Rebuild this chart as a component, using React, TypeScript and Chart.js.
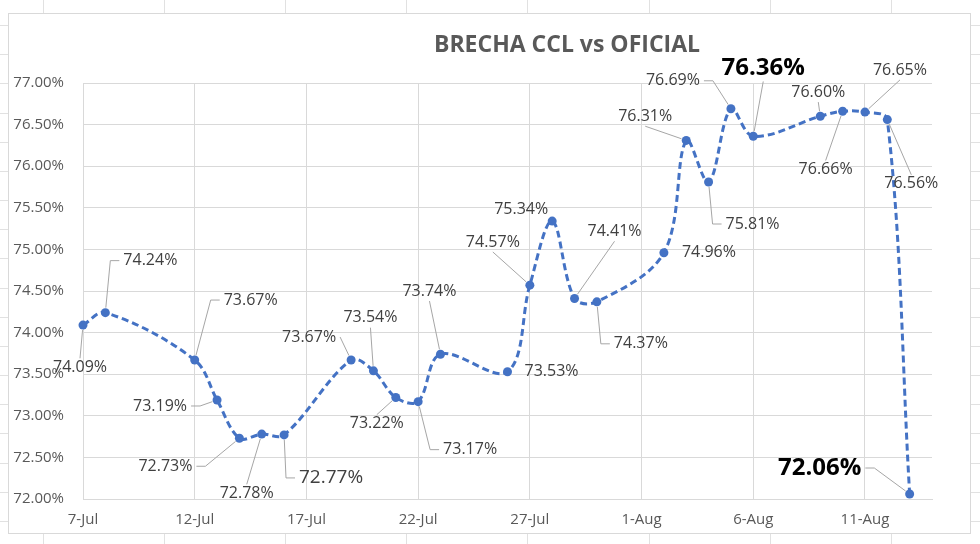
import React, { useEffect, useRef } from 'react';
import { Chart, registerables } from 'chart.js';

Chart.register(...registerables);

// ---- data ----
const dates = [
  '2021-07-07', '2021-07-08', '2021-07-12', '2021-07-13', '2021-07-14', '2021-07-15', '2021-07-16',
  '2021-07-19', '2021-07-20', '2021-07-21', '2021-07-22', '2021-07-23',
  '2021-07-26', '2021-07-27', '2021-07-28', '2021-07-29', '2021-07-30',
  '2021-08-02', '2021-08-03', '2021-08-04', '2021-08-05', '2021-08-06',
  '2021-08-09', '2021-08-10', '2021-08-11', '2021-08-12', '2021-08-13',
];
const values = [
  74.09, 74.24, 73.67, 73.19, 72.73, 72.78, 72.77,
  73.67, 73.54, 73.22, 73.17, 73.74,
  73.53, 74.57, 75.34, 74.41, 74.37,
  74.96, 76.31, 75.81, 76.69, 76.36,
  76.60, 76.66, 76.65, 76.56, 72.06,
];
const tickDates = ['2021-07-07', '2021-07-12', '2021-07-17', '2021-07-22', '2021-07-27', '2021-08-01', '2021-08-06', '2021-08-11'];
const tickLabels = ['7-Jul', '12-Jul', '17-Jul', '22-Jul', '27-Jul', '1-Aug', '6-Aug', '11-Aug'];
const axisStart = '2021-07-07';
const axisEnd = '2021-08-14';
const yMin = 72;
const yMax = 77;
const yStep = 0.5;
const title = 'BRECHA CCL vs OFICIAL';

// ---- label placement (pixel offsets from the point, leader style) ----
type Anchor = 'top' | 'bottom' | 'left' | 'right' | null;
type LL = { dx: number; dy: number; a: Anchor; elbow?: boolean; s?: 'big' | 'bold' };
const labelLayout: LL[] = [
  { dx: -3, dy: 42, a: 'top' },
  { dx: 45, dy: -52, a: 'left', elbow: true },
  { dx: 56, dy: -60, a: 'left', elbow: true },
  { dx: -57, dy: 6, a: 'right', elbow: true },
  { dx: -74, dy: 28, a: 'right', elbow: true },
  { dx: -15, dy: 59, a: 'top' },
  { dx: 47, dy: 43, a: 'left', elbow: true, s: 'big' },
  { dx: -42, dy: -23, a: 'right' },
  { dx: -3, dy: -53, a: 'bottom' },
  { dx: -19, dy: 26, a: 'top' },
  { dx: 52, dy: 48, a: 'left', elbow: true },
  { dx: -11, dy: -63, a: 'bottom' },
  { dx: 44, dy: 0, a: null },
  { dx: -37, dy: -43, a: 'bottom' },
  { dx: -31, dy: -12, a: null },
  { dx: 40, dy: -67, a: 'bottom' },
  { dx: 44, dy: 42, a: 'left', elbow: true },
  { dx: 45, dy: 0, a: null },
  { dx: -41, dy: -24, a: 'bottom' },
  { dx: 44, dy: 42, a: 'left', elbow: true },
  { dx: -58, dy: -28, a: 'right', elbow: true },
  { dx: 10, dy: -68, a: 'bottom', s: 'bold' },
  { dx: -2, dy: -24, a: 'bottom' },
  { dx: -17, dy: 58, a: 'top' },
  { dx: 35, dy: -42, a: 'bottom' },
  { dx: 24, dy: 64, a: 'top' },
  { dx: -90, dy: -26, a: 'right', elbow: true, s: 'bold' },
];

const FONT = '"Open Sans", "Liberation Sans", sans-serif';
const dayNum = (s: string) => {
  const [y, m, d] = s.split('-').map(Number);
  return Date.UTC(y, m - 1, d) / 86400000;
};
const d0 = dayNum(axisStart);
const points = dates.map((d, i) => ({ x: dayNum(d) - d0, y: values[i] }));
const tickValues = tickDates.map((d) => dayNum(d) - d0);
const labelTexts = values.map((v) => v.toFixed(2) + '%');

const framePlugin = {
  id: 'frame',
  beforeDraw(chart: any) {
    const ctx = chart.ctx;
    const W = chart.width, H = chart.height;
    ctx.save();
    ctx.fillStyle = '#ffffff';
    ctx.fillRect(0, 0, W, H);
    // spreadsheet cell lines peeking out
    ctx.strokeStyle = '#E1E1E1';
    ctx.lineWidth = 1;
    ctx.beginPath();
    for (let k = 0; k < 8; k++) {
      const x = Math.round(42.5 + 121.2 * k) + 0.5;
      ctx.moveTo(x, 533); ctx.lineTo(x, H);
      ctx.moveTo(x, 0); ctx.lineTo(x, 13);
    }
    for (let k = 0; k < 18; k++) {
      const y = Math.round(25 + 29.17 * k) + 0.5;
      ctx.moveTo(0, y); ctx.lineTo(8, y);
      ctx.moveTo(970, y); ctx.lineTo(W, y);
    }
    ctx.stroke();
    ctx.strokeStyle = '#D9D9D9';
    ctx.strokeRect(8.5, 13.5, 962, 520);
    // title
    ctx.fillStyle = '#595959';
    ctx.font = 'bold 23px ' + FONT;
    ctx.textAlign = 'center';
    ctx.textBaseline = 'middle';
    ctx.fillText(title, 567, 45);
    ctx.restore();
  },
};

const labelsPlugin = {
  id: 'ptlabels',
  afterDatasetsDraw(chart: any) {
    const ctx = chart.ctx;
    const meta = chart.getDatasetMeta(0);
    ctx.save();
    meta.data.forEach((pt: any, i: number) => {
      const L = labelLayout[i];
      if (!L) return;
      const px = pt.x, py = pt.y;
      const cx = px + L.dx, cy = py + L.dy;
      let size = 16;
      let font = `${size}px ${FONT}`;
      let color = '#404040';
      if (L.s === 'big') { size = 19; font = `${size}px ${FONT}`; }
      if (L.s === 'bold') { size = 24; font = `bold ${size}px ${FONT}`; color = '#000000'; }
      ctx.font = font;
      const text = labelTexts[i];
      const w = ctx.measureText(text).width;
      const h = size * 0.85;
      if (L.a) {
        let ax = cx, ay = cy;
        if (L.a === 'top') ay = cy - h / 2 - 2;
        if (L.a === 'bottom') ay = cy + h / 2 + 3;
        if (L.a === 'left') ax = cx - w / 2 - 4;
        if (L.a === 'right') ax = cx + w / 2 + 4;
        ctx.strokeStyle = '#A6A6A6';
        ctx.lineWidth = 1;
        ctx.beginPath();
        ctx.moveTo(ax, ay);
        let fx = ax, fy = ay;
        if (L.elbow) {
          fx = L.a === 'left' ? ax - 9 : ax + 9;
          ctx.lineTo(fx, fy);
        }
        const vx = px - fx, vy = py - fy;
        const d = Math.hypot(vx, vy);
        const r = 5;
        if (d > r) ctx.lineTo(px - (vx / d) * r, py - (vy / d) * r);
        ctx.stroke();
      }
      ctx.fillStyle = color;
      ctx.textAlign = 'center';
      ctx.textBaseline = 'middle';
      ctx.fillText(text, cx, cy);
    });
    ctx.restore();
  },
};

export default function App() {
  const ref = useRef<HTMLCanvasElement>(null);
  useEffect(() => {
    if (!ref.current) return;
    const chart = new Chart(ref.current, {
      type: 'line',
      data: {
        datasets: [
          {
            data: points,
            borderColor: '#4472C4',
            backgroundColor: '#4472C4',
            borderWidth: 3,
            borderDash: [7, 4],
            tension: 0.35,
            pointRadius: 4.5,
            pointBorderWidth: 0,
            pointBackgroundColor: '#4472C4',
            fill: false,
            clip: false,
          } as any,
        ],
      },
      options: {
        animation: false,
        responsive: false,
        layout: { padding: { top: 83, right: 48, left: 0, bottom: 0 } },
        plugins: { legend: { display: false }, tooltip: { enabled: false }, title: { display: false } },
        scales: {
          x: {
            type: 'linear',
            min: 0,
            max: dayNum(axisEnd) - d0,
            afterBuildTicks: (scale: any) => {
              scale.ticks = tickValues.map((v) => ({ value: v }));
            },
            afterFit: (scale: any) => { scale.height = 45; },
            grid: { color: '#D9D9D9', drawTicks: false },
            border: { color: '#D9D9D9' },
            ticks: {
              padding: 12,
              autoSkip: false,
              maxRotation: 0,
              color: '#595959',
              font: { family: FONT, size: 15 },
              callback: (v: any) => {
                const idx = tickValues.indexOf(Number(v));
                return idx >= 0 ? tickLabels[idx] : '';
              },
            },
          },
          y: {
            min: yMin,
            max: yMax,
            afterFit: (scale: any) => { scale.width = 83; },
            grid: { color: '#D9D9D9', drawTicks: false },
            border: { color: '#D9D9D9' },
            ticks: {
              stepSize: yStep,
              padding: 19,
              color: '#595959',
              font: { family: FONT, size: 15 },
              callback: (v: any) => Number(v).toFixed(2) + '%',
            },
          },
        },
      },
      plugins: [framePlugin, labelsPlugin],
    });
    return () => chart.destroy();
  }, []);
  return (
    <div style={{ position: 'absolute', left: 0, top: 0, width: 980, height: 544 }}>
      <canvas ref={ref} width={980} height={544} style={{ display: 'block', width: 980, height: 544 }} />
    </div>
  );
}
